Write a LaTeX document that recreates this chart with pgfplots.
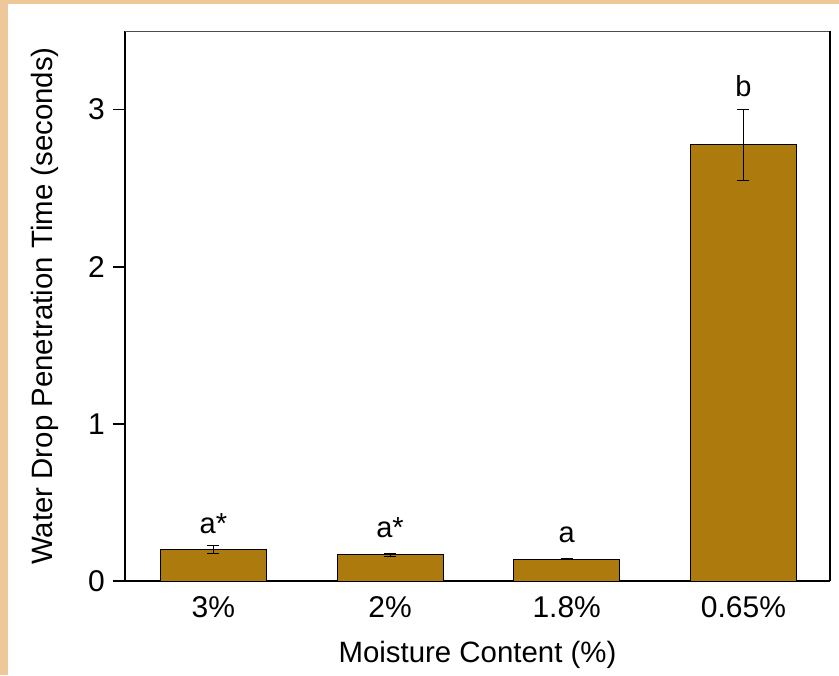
\documentclass[border=0pt]{standalone}
\usepackage{pgfplots}
\pgfplotsset{compat=1.18}
\usepackage{fontspec}
\setmainfont{Liberation Sans}
\definecolor{peach}{RGB}{239,200,153}
\definecolor{barc}{RGB}{173,122,14}
\begin{document}
\begin{tikzpicture}
\fill[peach] (-62.5pt,-47pt) rectangle (357pt,290.5pt);
\fill[white] (-58.5pt,-47pt) rectangle (357pt,288.5pt);
\begin{axis}[
  at={(0,0)}, anchor=south west,
  scale only axis, width=352.5pt, height=275pt,
  xmin=-0.5, xmax=3.49, ymin=0, ymax=3.5,
  axis x line*=bottom, axis y line*=left,
  axis line style={line width=1pt, black},
  clip=false,
  ytick={0,1,2,3},
  xtick={0,1,2,3}, xticklabels={3\%,2\%,1.8\%,0.65\%},
  x tick style={draw=none},
  y tick style={black, line width=0.8pt},
  tick align=outside, major tick length=6pt,
  /pgf/number format/assume math mode=true,
  ticklabel style={font=\fontsize{15}{17}\selectfont},
  yticklabel style={xshift=-0.5pt},
  xticklabel style={anchor=base, yshift=-12pt},
  xlabel={Moisture Content (\%)},
  ylabel={Water Drop Penetration Time (seconds)},
  label style={font=\fontsize{14.7}{17}\selectfont},
  xlabel style={at={(rel axis cs:0.5,0)}, anchor=center, yshift=-37pt},
  ylabel style={at={(rel axis cs:0,0.5)}, anchor=center, yshift=40pt},
  ybar, bar width=53pt,
]
\addplot[fill=barc, draw=black, line width=0.5pt,
  error bars/.cd, y dir=both, y explicit,
  error bar style={line width=0.5pt, black},
  error mark options={rotate=90, mark size=3pt, line width=0.5pt, black}]
  coordinates {
  (0,0.20) +- (0,0.028)
  (1,0.166) +- (0,0.011)
  (2,0.14) +- (0,0.003)
  (3,2.775) +- (0,0.227)
  };
\draw[black!70, line width=0.5pt] (rel axis cs:0,1) -- (rel axis cs:1,1);
\draw[black, line width=1pt] (rel axis cs:1,0) -- (rel axis cs:1,1);
\node[anchor=base, font=\fontsize{14.5}{17}\selectfont] at (axis cs:0,0.30) {a*};
\node[anchor=base, font=\fontsize{14.5}{17}\selectfont] at (axis cs:1,0.28) {a*};
\node[anchor=base, font=\fontsize{14.5}{17}\selectfont] at (axis cs:2,0.242) {a};
\node[anchor=base, font=\fontsize{14.5}{17}\selectfont] at (axis cs:3,3.085) {b};
\end{axis}
\end{tikzpicture}
\end{document}
